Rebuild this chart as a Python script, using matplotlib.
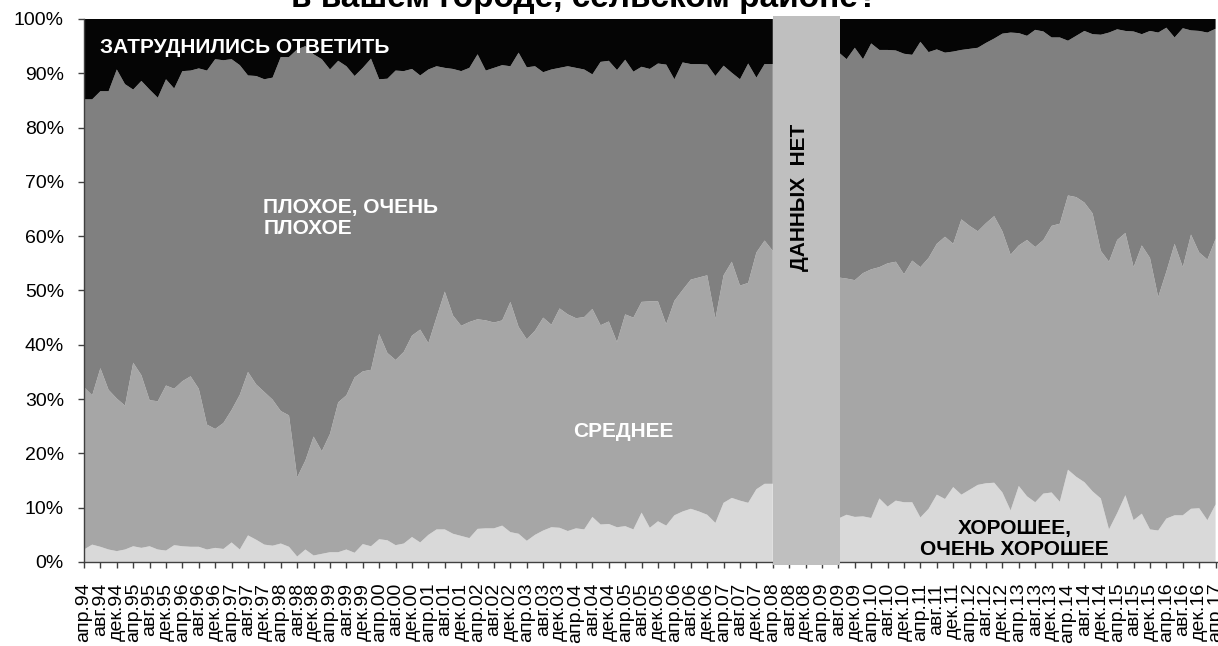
import numpy as np
import matplotlib
matplotlib.use("Agg")
import matplotlib.pyplot as plt
from matplotlib.patches import Rectangle

plt.rcParams['font.family'] = ['Liberation Sans', 'DejaVu Sans']

# survey waves: months since April 1994 (bimonthly); no data mid-2008 .. mid-2009
months = np.arange(0, 277, 2)
GAP = [None] * 7

good = [2.3, 3.2, 2.8, 2.3, 2.0, 2.3, 2.9, 2.6, 2.9, 2.3,
        2.1, 3.1, 2.9, 2.8, 2.8, 2.3, 2.6, 2.4, 3.6, 2.3,
        4.9, 4.1, 3.2, 3.0, 3.4, 2.8, 1.0, 2.3, 1.2, 1.5,
        1.8, 1.8, 2.3, 1.7, 3.3, 2.9, 4.2, 4.0, 3.1, 3.4,
        4.6, 3.6, 5.0, 6.0, 6.0, 5.2, 4.8, 4.4, 6.1, 6.2,
        6.2, 6.7, 5.5, 5.2, 3.9, 5.0, 5.8, 6.4, 6.3, 5.7,
        6.2, 6.0, 8.3, 6.9, 7.0, 6.4, 6.6, 6.0, 9.1, 6.3,
        7.5, 6.7, 8.6, 9.3, 9.8, 9.3, 8.7, 7.2, 10.9, 11.8,
        11.3, 10.9, 13.4, 14.4, 14.4] + GAP + [
        8.0, 8.7, 8.3, 8.4, 8.1, 11.7, 10.2, 11.3, 11.0, 11.0,
        8.2, 9.8, 12.4, 11.6, 13.8, 12.4, 13.3, 14.2, 14.5, 14.6,
        12.8, 9.5, 14.0, 12.1, 11.0, 12.6, 12.8, 11.1, 17.0, 15.7,
        14.7, 13.0, 11.7, 6.0, 9.0, 12.3, 7.7, 8.9, 6.0, 5.8,
        8.0, 8.6, 8.6, 9.8, 9.9, 7.7, 10.6]

average = [29.9, 27.5, 32.9, 29.4, 28.1, 26.5, 33.8, 31.8, 26.9, 27.3,
           30.4, 28.8, 30.4, 31.4, 29.1, 23.0, 21.9, 23.2, 24.4, 28.5,
           30.1, 28.6, 28.1, 26.9, 24.4, 24.2, 14.6, 16.4, 21.9, 18.9,
           21.8, 27.6, 28.4, 32.3, 31.8, 32.5, 37.8, 34.5, 34.1, 35.3,
           37.1, 39.2, 35.3, 39.1, 43.8, 40.2, 38.7, 39.8, 38.6, 38.3,
           37.9, 37.8, 42.4, 38.1, 37.1, 37.6, 39.2, 37.3, 40.4, 39.9,
           38.7, 39.1, 38.3, 36.7, 37.3, 34.1, 39.0, 39.0, 38.8, 41.7,
           40.5, 37.1, 39.5, 40.8, 42.2, 43.1, 44.1, 37.6, 41.9, 43.5,
           39.6, 40.5, 43.6, 44.8, 42.9] + GAP + [
           44.4, 43.5, 43.6, 44.8, 45.8, 42.6, 44.8, 44.0, 42.0, 44.5,
           46.1, 46.2, 46.2, 48.3, 44.8, 50.7, 48.6, 46.7, 47.9, 49.1,
           48.1, 47.1, 44.3, 47.2, 47.0, 46.7, 49.1, 51.2, 50.5, 51.5,
           51.5, 51.2, 45.6, 49.3, 50.3, 48.3, 46.6, 49.4, 50.0, 43.0,
           45.5, 50.0, 45.7, 50.5, 47.1, 48.0, 48.9]

bad = [53.0, 54.5, 51.0, 55.0, 60.6, 59.2, 50.3, 54.2, 57.2, 55.9,
       56.4, 55.3, 57.1, 56.3, 59.0, 65.2, 68.1, 66.8, 64.6, 60.7,
       54.6, 56.8, 57.6, 59.3, 65.2, 66.0, 78.8, 76.3, 70.4, 72.2,
       67.1, 62.9, 60.6, 55.5, 55.9, 57.3, 46.9, 50.5, 53.3, 51.7,
       49.1, 46.8, 50.4, 46.2, 41.2, 45.4, 46.9, 46.8, 48.8, 46.0,
       46.9, 47.0, 43.4, 50.5, 50.1, 48.7, 45.2, 47.0, 44.3, 45.7,
       46.1, 45.6, 43.2, 48.5, 48.0, 50.1, 46.9, 45.3, 43.3, 42.8,
       43.8, 47.8, 40.8, 41.9, 39.7, 39.3, 38.8, 44.7, 38.6, 34.8,
       38.0, 40.4, 32.2, 32.5, 34.4] + GAP + [
       41.5, 40.4, 42.8, 39.4, 41.6, 40.0, 39.3, 38.9, 40.6, 37.9,
       41.5, 37.9, 35.8, 33.9, 35.4, 31.2, 32.6, 33.8, 33.2, 32.7,
       36.4, 40.9, 39.1, 37.6, 40.0, 38.4, 34.7, 34.3, 28.5, 29.7,
       31.6, 33.0, 39.8, 42.2, 38.8, 37.2, 43.4, 38.9, 41.8, 48.7,
       44.9, 38.0, 44.0, 37.6, 40.8, 41.8, 38.7]

no_answer = [14.8, 14.8, 13.3, 13.3, 9.3, 12.0, 13.0, 11.4, 13.0, 14.5,
             11.1, 12.8, 9.6, 9.5, 9.1, 9.5, 7.4, 7.6, 7.4, 8.5,
             10.4, 10.5, 11.1, 10.8, 7.0, 7.0, 5.6, 5.0, 6.5, 7.4,
             9.3, 7.7, 8.7, 10.5, 9.0, 7.3, 11.1, 11.0, 9.5, 9.6,
             9.2, 10.4, 9.3, 8.7, 9.0, 9.2, 9.6, 9.0, 6.5, 9.5,
             9.0, 8.5, 8.7, 6.2, 8.9, 8.7, 9.8, 9.3, 9.0, 8.7,
             9.0, 9.3, 10.2, 7.9, 7.7, 9.4, 7.5, 9.7, 8.8, 9.2,
             8.2, 8.4, 11.1, 8.0, 8.3, 8.3, 8.4, 10.5, 8.6, 9.9,
             11.1, 8.2, 10.8, 8.3, 8.3] + GAP + [
             6.1, 7.4, 5.3, 7.4, 4.5, 5.7, 5.7, 5.8, 6.4, 6.6,
             4.2, 6.1, 5.6, 6.2, 6.0, 5.7, 5.5, 5.3, 4.4, 3.6,
             2.7, 2.5, 2.6, 3.1, 2.0, 2.3, 3.4, 3.4, 4.0, 3.1,
             2.2, 2.8, 2.9, 2.5, 1.9, 2.2, 2.3, 2.8, 2.2, 2.5,
             1.6, 3.4, 1.7, 2.1, 2.2, 2.5, 1.8]

# tick labels every 4 months
tick_months = np.arange(0, 277, 4)
month_names = {3: 'апр', 7: 'авг', 11: 'дек'}
tick_labels = [f"{month_names[(3 + m) % 12]}.{(1994 + (3 + m) // 12) % 100:02d}"
               for m in tick_months]

colors = ['#d9d9d9', '#a6a6a6', '#808080', '#050505']

W, H = 1218, 646
fig = plt.figure(figsize=(W / 100, H / 100), dpi=100)
x0, y0, y1 = 84, 562, 19
px_per_month = 4.1
ax = fig.add_axes([x0 / W, (H - y0) / H, (W - x0) / W, (y0 - y1) / H])

series = [np.array(s, dtype=float) for s in (good, average, bad, no_answer)]
ax.stackplot(months, *series, colors=colors, linewidth=0)

ax.set_xlim(0, (W - x0) / px_per_month)
ax.set_ylim(0, 100)

for s in ('top', 'right'):
    ax.spines[s].set_visible(False)
for s in ('left', 'bottom'):
    ax.spines[s].set_color('#404040')
    ax.spines[s].set_linewidth(1.0)

ax.set_yticks(range(0, 101, 10))
ax.set_yticklabels([f"{v}%" for v in range(0, 101, 10)])
ax.tick_params(axis='y', direction='out', length=4.5, width=1, pad=10,
               labelsize=14, color='#404040')
ax.set_xticks(tick_months)
ax.set_xticklabels(tick_labels, rotation=90)
ax.tick_params(axis='x', direction='out', length=4, width=1, pad=11,
               labelsize=14, color='#404040')

# no-data box
gap_start, gap_end = 168.0, 184.4
ax.add_patch(Rectangle((gap_start, -0.5), gap_end - gap_start, 101.0,
                       facecolor='#bfbfbf', edgecolor='none', zorder=3,
                       clip_on=False))
ax.text(174.4, 67.2, 'ДАННЫХ  НЕТ', rotation=90, ha='center', va='center',
        fontsize=15, fontweight='bold', color='black', zorder=4)

ax.text(3.9, 94.7, 'ЗАТРУДНИЛИСЬ ОТВЕТИТЬ', ha='left', va='center',
        fontsize=15, fontweight='bold', color='white', zorder=4)
ax.text(43.7, 63.3, 'ПЛОХОЕ, ОЧЕНЬ\nПЛОХОЕ', ha='left', va='center',
        multialignment='left', fontsize=15, fontweight='bold',
        color='white', linespacing=1.15, zorder=4)
ax.text(131.5, 24.0, 'СРЕДНЕЕ', ha='center', va='center',
        fontsize=15, fontweight='bold', color='white', zorder=4)
ax.text(227.0, 4.2, 'ХОРОШЕЕ,\nОЧЕНЬ ХОРОШЕЕ', ha='center', va='center',
        multialignment='center', fontsize=15, fontweight='bold',
        color='black', linespacing=1.15, zorder=4)

fig.text(585 / W, 1 - 7 / H, 'в вашем городе, сельском районе?',
         ha='center', va='baseline', fontsize=24, fontweight='bold')

fig.savefig('out.png', dpi=100)
